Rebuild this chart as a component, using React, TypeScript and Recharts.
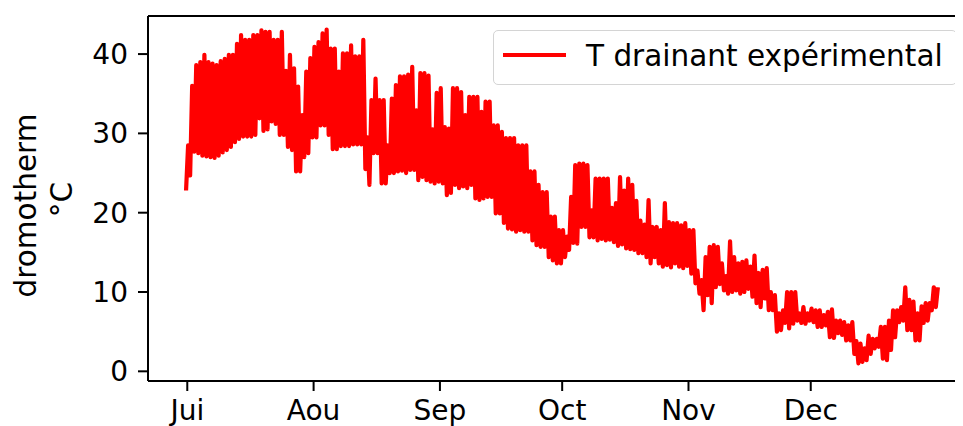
import { LineChart, Line, XAxis, YAxis, ReferenceLine } from 'recharts'

const FONT = '"DejaVu Sans", sans-serif'

// day 0 = 1 July
const MONTH_TICKS = [0, 31, 62, 92, 123, 153]
const MONTH_LABELS = ['Jui', 'Aou', 'Sep', 'Oct', 'Nov', 'Dec']
const Y_TICKS = [0, 10, 20, 30, 40]

// daily low / high, 1 Jul -> 31 Dec
const DAILY_MIN = [
  22.8, 24.7, 27.7, 27.5, 27.2, 27.1, 27.0, 26.9, 27.2, 27.6,
  27.9, 28.3, 28.9, 29.3, 29.6, 29.6, 29.6, 29.8, 31.9, 30.3,
  30.5, 31.5, 31.2, 29.8, 29.8, 28.3, 27.9, 25.2, 25.2, 27.0,
  27.5, 29.5, 29.5, 31.0, 31.0, 29.8, 28.0, 28.0, 28.4, 28.4,
  28.4, 28.6, 28.6, 28.6, 25.5, 23.5, 27.5, 27.5, 23.7, 23.7,
  25.0, 25.0, 25.2, 25.3, 25.0, 25.4, 25.4, 24.1, 24.5, 24.1,
  23.9, 23.7, 23.9, 23.7, 22.2, 22.5, 23.5, 23.1, 23.3, 23.1,
  23.5, 21.8, 21.6, 21.8, 22.0, 22.0, 19.9, 19.9, 18.7, 18.0,
  17.9, 17.6, 17.8, 17.6, 17.6, 16.5, 15.9, 15.7, 15.7, 14.4,
  14.0, 13.6, 13.6, 14.4, 15.3, 16.2, 16.1, 18.2, 18.2, 16.9,
  16.9, 16.5, 16.7, 16.5, 16.6, 16.3, 15.8, 16.0, 15.5, 15.4,
  15.3, 14.9, 14.9, 14.4, 13.6, 14.4, 13.6, 13.2, 13.4, 13.1,
  13.6, 13.2, 13.0, 13.3, 12.3, 11.1, 9.8, 7.7, 9.6, 8.6,
  10.6, 11.0, 10.2, 9.8, 10.0, 10.2, 9.8, 10.0, 10.4, 9.4,
  8.6, 8.1, 9.2, 7.7, 7.7, 5.0, 5.2, 6.1, 5.4, 6.0,
  6.4, 6.1, 6.0, 6.4, 6.2, 5.6, 5.6, 5.8, 4.3, 4.2,
  4.8, 4.6, 3.9, 3.9, 2.2, 1.0, 1.2, 1.4, 2.2, 2.9,
  3.1, 1.6, 1.4, 2.7, 4.3, 6.2, 6.4, 5.2, 5.2, 3.9,
  3.9, 6.1, 6.4, 7.7, 8.1,
]

const DAILY_MAX = [
  28.5, 36.0, 38.6, 39.0, 39.9, 39.0, 38.8, 38.6, 39.1, 39.4,
  39.9, 39.9, 41.3, 42.4, 41.8, 41.8, 42.4, 42.4, 43.0, 42.8,
  42.8, 41.8, 41.8, 42.8, 37.9, 39.9, 38.2, 35.9, 32.3, 37.8,
  39.5, 40.9, 41.5, 42.6, 43.1, 40.7, 40.7, 37.8, 40.1, 40.1,
  41.1, 39.7, 39.7, 41.8, 29.5, 34.2, 36.9, 34.2, 34.2, 28.5,
  34.4, 36.1, 37.2, 37.2, 37.4, 38.4, 32.9, 37.6, 37.6, 37.3,
  30.5, 35.1, 35.7, 30.8, 30.6, 35.7, 35.7, 35.2, 32.3, 34.6,
  34.6, 34.6, 32.7, 34.0, 34.0, 31.0, 31.0, 30.2, 29.4, 29.4,
  29.4, 28.5, 28.5, 28.5, 25.2, 25.2, 23.5, 22.6, 22.6, 19.5,
  19.5, 17.8, 17.8, 17.0, 22.0, 26.0, 26.2, 26.2, 26.0, 20.3,
  24.3, 24.3, 24.3, 24.3, 20.6, 21.2, 24.5, 22.8, 24.3, 23.5,
  21.5, 19.0, 18.5, 21.6, 18.2, 18.2, 17.8, 21.2, 18.8, 18.7,
  18.7, 18.4, 18.7, 17.8, 17.8, 12.7, 11.5, 14.4, 15.7, 15.9,
  15.7, 13.6, 12.0, 16.4, 14.4, 13.6, 13.8, 14.0, 13.2, 14.6,
  12.4, 12.8, 13.0, 10.0, 9.6, 7.3, 7.7, 10.0, 10.0, 10.0,
  7.3, 8.1, 7.3, 7.9, 7.7, 7.7, 7.1, 7.5, 7.8, 6.4,
  6.4, 6.2, 5.8, 6.2, 3.8, 3.5, 2.9, 4.5, 4.1, 4.1,
  5.6, 5.6, 6.4, 7.7, 7.7, 8.1, 10.6, 9.0, 8.8, 7.3,
  8.2, 8.6, 8.6, 10.6, 10.6,
]

// night low then afternoon high for every day
const series = DAILY_MIN.flatMap((lo, d) => [
  { t: d - 0.3, v: lo },
  { t: d + 0.2, v: DAILY_MAX[d] },
])

const X_DOMAIN: [number, number] = [-9.64, 193.8]
const Y_DOMAIN: [number, number] = [-1.22, 44.8]

function YLabel({ viewBox }: { viewBox?: { x: number; y: number; width: number; height: number } }) {
  const cy = viewBox ? viewBox.y + viewBox.height / 2 : 190
  return (
    <g fontFamily={FONT} fontSize={29.5} fill="#000">
      <text x={28} y={cy + 7} textAnchor="middle" transform={`rotate(-90 28 ${cy + 7})`}>
        dromotherm
      </text>
      <text x={64} y={cy + 1} textAnchor="middle" transform={`rotate(-90 64 ${cy + 1})`}>
        °C
      </text>
    </g>
  )
}

export default function App() {
  return (
    <div style={{ position: 'relative', width: 955, height: 418, overflow: 'hidden' }}>
      <LineChart
        width={979}
        height={418}
        data={series}
        margin={{ top: 8, right: 10, bottom: 0, left: 0 }}
        style={{ fontFamily: FONT }}
      >
        <XAxis
          dataKey="t"
          type="number"
          domain={X_DOMAIN}
          allowDataOverflow
          ticks={MONTH_TICKS}
          tickFormatter={(v: number) => MONTH_LABELS[MONTH_TICKS.indexOf(v)] ?? ''}
          tick={{ fill: '#000', fontSize: 28, fontFamily: FONT }}
          tickSize={10}
          tickMargin={9}
          height={45}
          axisLine={{ stroke: '#000', strokeWidth: 2 }}
          tickLine={{ stroke: '#000', strokeWidth: 2 }}
        />
        <YAxis
          type="number"
          domain={Y_DOMAIN}
          allowDataOverflow
          ticks={Y_TICKS}
          tick={{ fill: '#000', fontSize: 28, fontFamily: FONT }}
          tickSize={10}
          tickMargin={10}
          width={140}
          axisLine={{ stroke: '#000', strokeWidth: 2 }}
          tickLine={{ stroke: '#000', strokeWidth: 2 }}
          label={{ content: (p: any) => <YLabel viewBox={p.viewBox} /> }}
        />
        <ReferenceLine y={Y_DOMAIN[1]} stroke="#000" strokeWidth={2} />
        <Line
          dataKey="v"
          type="linear"
          stroke="#ff0000"
          strokeWidth={4.2}
          strokeLinejoin="round"
          dot={false}
          isAnimationActive={false}
        />
      </LineChart>
      <div
        style={{
          position: 'absolute',
          left: 485,
          top: 22,
          width: 464,
          height: 55,
          boxSizing: 'border-box',
          border: '1.5px solid #d4d4d4',
          borderRadius: 5,
          background: 'rgba(255,255,255,0.8)',
          fontFamily: FONT,
          fontSize: 29.5,
          color: '#000',
        }}
      >
        <div style={{ position: 'absolute', left: 9, top: 22, width: 63, height: 4, background: '#ff0000' }} />
        <div style={{ position: 'absolute', left: 92, top: 3, whiteSpace: 'nowrap', lineHeight: '44px' }}>
          T drainant expérimental
        </div>
      </div>
    </div>
  )
}
